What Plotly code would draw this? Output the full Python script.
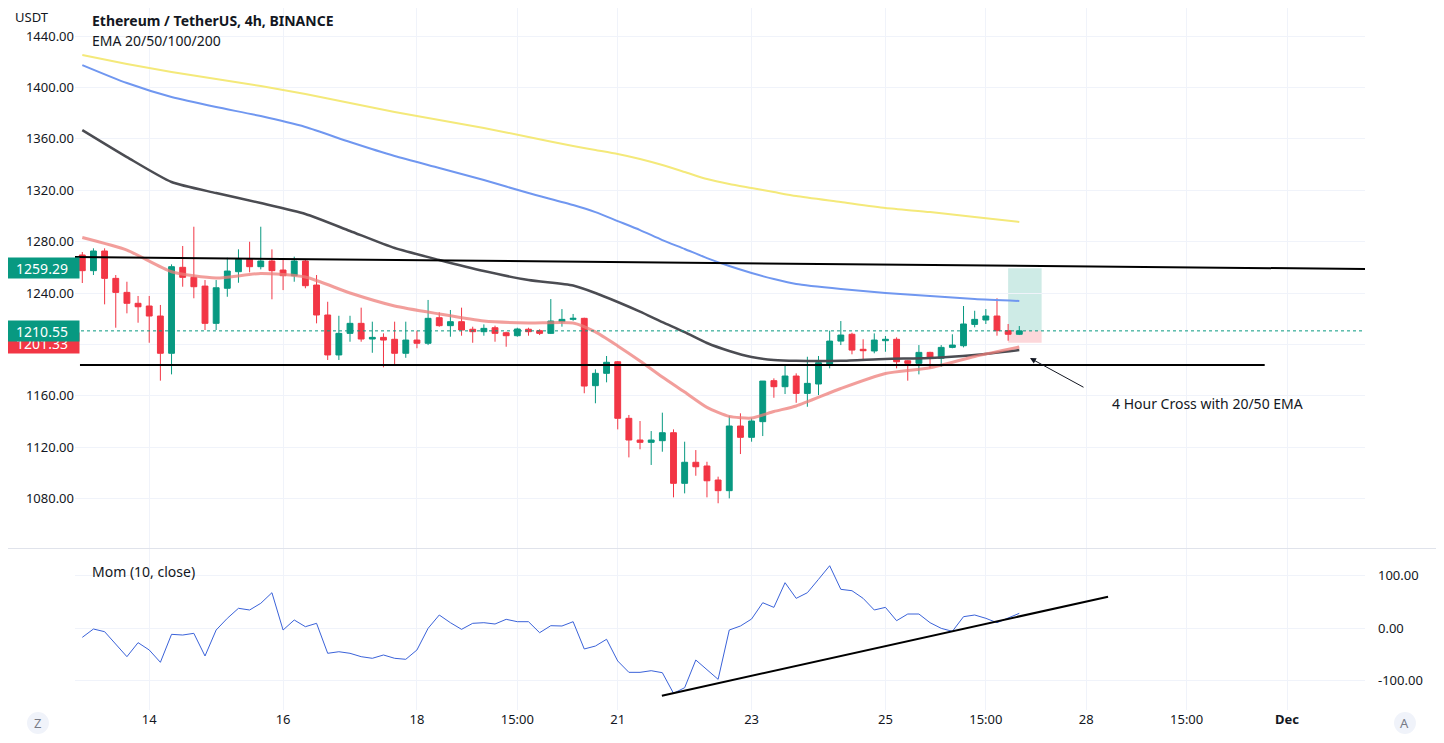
import plotly.graph_objects as go
import pandas as pd

# ---------------- data ----------------
start_time = "2022-11-13 00:00"
n_candles = 85

opens = [1269.6, 1257.4, 1272.7, 1251.4, 1240.5, 1232.0, 1229.9, 1222.1, 1193.1, 1260.0,
         1252.2, 1245.4, 1216.4, 1243.7, 1256.6, 1266.2, 1260.5, 1264.9, 1257.9, 1253.5,
         1264.9, 1246.2, 1222.9, 1191.8, 1208.6, 1216.4, 1204.2, 1205.5, 1204.0, 1193.1,
         1203.4, 1200.9, 1220.8, 1214.6, 1217.7, 1211.8, 1209.9, 1213.0, 1209.1, 1206.8,
         1211.8, 1210.7, 1208.6, 1217.7, 1219.5, 1220.3, 1167.9, 1177.5, 1186.5, 1142.5,
         1125.6, 1123.8, 1125.1, 1131.3, 1091.9, 1108.3, 1105.4, 1094.5, 1086.2, 1136.5,
         1127.7, 1139.9, 1171.8, 1167.1, 1175.4, 1161.9, 1169.2, 1184.0, 1202.6, 1207.9,
         1196.2, 1194.9, 1202.9, 1204.0, 1187.3, 1185.3, 1193.8, 1189.2, 1197.7, 1199.0,
         1215.6, 1219.0, 1222.1, 1210.7, 1207.9]
highs = [1271.9, 1274.8, 1274.8, 1254.0, 1248.8, 1237.7, 1237.7, 1230.7, 1262.3, 1276.6,
         1291.6, 1250.1, 1250.1, 1267.5, 1274.0, 1279.9, 1291.6, 1274.0, 1265.7, 1268.3,
         1265.7, 1254.0, 1233.2, 1222.3, 1222.3, 1228.6, 1217.7, 1208.6, 1217.7, 1217.7,
         1210.7, 1234.6, 1225.0, 1226.8, 1228.6, 1213.8, 1215.6, 1214.6, 1209.9, 1213.0,
         1213.0, 1211.8, 1235.3, 1227.5, 1223.7, 1220.8, 1180.6, 1191.0, 1187.1, 1145.1,
         1140.4, 1132.6, 1146.9, 1133.9, 1124.3, 1117.8, 1108.7, 1097.1, 1144.5, 1146.4,
         1142.5, 1171.5, 1173.6, 1184.7, 1177.5, 1190.4, 1191.0, 1210.7, 1218.2, 1209.1,
         1204.0, 1208.6, 1206.5, 1205.5, 1187.9, 1199.5, 1194.3, 1199.5, 1207.9, 1229.9,
         1226.2, 1227.5, 1235.9, 1215.9, 1214.3]
lows = [1247.8, 1254.0, 1231.2, 1213.0, 1224.2, 1216.9, 1201.3, 1171.8, 1176.7, 1244.9,
        1235.9, 1211.2, 1211.2, 1237.1, 1248.0, 1256.1, 1258.4, 1235.1, 1242.3, 1248.8,
        1243.7, 1216.4, 1187.9, 1187.9, 1202.1, 1202.1, 1193.5, 1182.2, 1183.2, 1189.6,
        1197.0, 1199.5, 1213.8, 1206.0, 1206.8, 1201.3, 1206.8, 1202.1, 1198.2, 1206.0,
        1206.8, 1207.3, 1208.1, 1213.8, 1218.4, 1162.0, 1154.2, 1170.5, 1133.9, 1112.1,
        1118.4, 1106.2, 1116.5, 1081.0, 1084.1, 1097.8, 1081.0, 1076.4, 1080.2, 1114.7,
        1124.3, 1128.7, 1158.5, 1161.4, 1154.6, 1151.5, 1160.6, 1181.4, 1199.5, 1192.3,
        1187.1, 1193.1, 1194.3, 1181.4, 1171.8, 1176.7, 1181.4, 1182.6, 1197.0, 1197.7,
        1213.3, 1215.9, 1206.8, 1202.9, 1207.3]
closes = [1257.4, 1272.7, 1251.4, 1240.5, 1232.0, 1229.3, 1222.1, 1193.1, 1260.5, 1252.2,
          1244.9, 1216.4, 1244.1, 1257.1, 1266.2, 1260.5, 1264.9, 1257.4, 1253.5, 1264.9,
          1245.7, 1222.9, 1191.8, 1208.6, 1216.4, 1204.2, 1205.5, 1203.4, 1193.1, 1203.4,
          1200.9, 1220.3, 1214.6, 1217.7, 1211.2, 1209.9, 1212.5, 1208.6, 1206.8, 1212.0,
          1209.9, 1208.6, 1218.2, 1219.5, 1220.3, 1167.6, 1177.5, 1186.1, 1142.5, 1125.6,
          1123.8, 1125.6, 1131.3, 1091.9, 1108.3, 1104.8, 1093.9, 1086.2, 1136.5, 1127.7,
          1140.4, 1171.5, 1167.1, 1175.4, 1161.9, 1169.7, 1185.8, 1202.6, 1207.3, 1195.6,
          1195.1, 1203.4, 1204.0, 1186.5, 1185.3, 1193.8, 1189.2, 1197.7, 1199.5, 1215.9,
          1219.5, 1222.1, 1210.7, 1207.9, 1210.55]

# EMA values read at these candle indices
ema_idx = [0, 4, 8, 12, 16, 20, 24, 28, 32, 36, 40, 44, 46, 48, 50, 52, 54, 56, 58, 60,
           62, 64, 68, 72, 76, 80, 84]
ema20 = [1283.2, 1273.4, 1256.6, 1251.7, 1255.2, 1252.4, 1240.0, 1229.9, 1223.7, 1218.2,
         1216.7, 1216.7, 1209.7, 1198.8, 1187.1, 1174.6, 1162.9, 1151.0, 1144.0, 1142.7,
         1147.8, 1152.1, 1165.7, 1177.4, 1181.8, 1190.6, 1198.0]
ema50 = [1366.8, 1345.8, 1326.4, 1317.8, 1310.0, 1301.5, 1288.3, 1275.0, 1265.7, 1257.1,
         1250.1, 1245.8, 1240.0, 1233.0, 1225.5, 1217.4, 1209.6, 1201.1, 1194.9, 1190.2,
         1187.9, 1187.2, 1187.2, 1188.7, 1189.4, 1191.8, 1195.6]
ema100 = [1417.4, 1403.4, 1392.5, 1384.7, 1377.7, 1369.2, 1357.5, 1346.6, 1337.3, 1327.9,
          1317.8, 1308.5, 1303.0, 1296.0, 1289.0, 1281.2, 1274.3, 1267.2, 1261.0, 1255.6,
          1250.9, 1247.0, 1243.1, 1240.0, 1237.7, 1235.3, 1233.8]
ema200 = [1425.2, 1418.2, 1412.0, 1406.5, 1401.1, 1394.9, 1387.9, 1380.9, 1374.6, 1368.4,
          1361.4, 1354.4, 1351.3, 1348.2, 1344.3, 1339.6, 1334.2, 1328.7, 1324.8, 1321.7,
          1318.6, 1315.5, 1310.8, 1306.1, 1303.0, 1299.1, 1295.3]

momentum = [-17.7, -1.9, -7.0, -30.4, -54.4, -27.8, -41.7, -65.1, -12.0, -13.3,
            -10.1, -53.1, -3.8, 18.4, 37.4, 34.2, 46.9, 67.0, -3.8, 15.2,
            2.5, 8.9, -48.0, -45.0, -48.0, -54.4, -57.5, -51.2, -57.5, -59.4,
            -41.7, -0.6, 24.7, 10.1, -2.5, 8.9, 10.1, 7.6, 16.5, 12.0,
            12.0, -8.9, 4.4, 3.8, 12.0, -39.8, -34.2, -21.4, -62.6, -84.1,
            -84.1, -81.0, -84.8, -123.9, -113.3, -60.7, -79.0, -97.4, -3.8, 3.8,
            17.1, 48.0, 39.2, 86.0, 56.3, 67.0, 92.4, 118.2, 73.4, 70.8,
            56.3, 34.2, 39.2, 13.9, 26.6, 26.6, 10.1, -0.6, -6.3, 21.5,
            24.7, 18.4, 10.1, 18.4, 27.9]

# drawings
upper_line_t = ["2022-11-12 21:00", "2022-12-02 04:00"]
upper_line_p = [1268.0, 1258.7]
lower_line_t = ["2022-11-12 23:10", "2022-11-30 16:00"]
lower_line_p = [1184.0, 1184.0]
mom_line_t = ["2022-11-21 15:50", "2022-11-28 07:50"]
mom_line_v = [-128.5, 59.4]

last_price = 1210.55
target_price = 1259.29
stop_price = 1201.33
position_t = ["2022-11-26 20:00", "2022-11-27 08:00"]

price_ticks = [1080, 1120, 1160, 1200, 1240, 1280, 1320, 1360, 1400, 1440]
price_tick_text = ["1080.00", "1120.00", "1160.00", "", "1240.00", "1280.00",
                   "1320.00", "1360.00", "1400.00", "1440.00"]
mom_ticks = [-100, 0, 100]
mom_tick_text = ["-100.00", "0.00", "100.00"]
time_ticks = ["2022-11-14", "2022-11-16", "2022-11-18", "2022-11-19 12:00", "2022-11-21",
              "2022-11-23", "2022-11-25", "2022-11-26 12:00", "2022-11-28",
              "2022-11-29 12:00", "2022-12-01"]
time_tick_text = ["14", "16", "18", "15:00", "21", "23", "25", "15:00", "28", "15:00",
                  "<b>Dec</b>"]

# ---------------- figure ----------------
times = pd.date_range(start_time, periods=n_candles, freq="4h")
ema_times = [times[i] for i in ema_idx]

UP = "#089981"
DOWN = "#F23645"
FONT = "Noto Sans"
TXT = "#131722"
GRID = "#f0f3fa"

fig = go.Figure()

# EMAs (under candles)
for vals, col, w in [(ema200, "#f4e97a", 2), (ema100, "#7097f0", 2),
                     (ema50, "#4b4c52", 2.5), (ema20, "rgba(238,125,122,0.75)", 3)]:
    fig.add_trace(go.Scatter(x=ema_times, y=vals, mode="lines",
                             line=dict(color=col, width=w, shape="spline", smoothing=0.6),
                             xaxis="x", yaxis="y", hoverinfo="skip", showlegend=False))

fig.add_trace(go.Candlestick(
    x=times, open=opens, high=highs, low=lows, close=closes,
    increasing=dict(line=dict(color=UP, width=1), fillcolor=UP),
    decreasing=dict(line=dict(color=DOWN, width=1), fillcolor=DOWN),
    whiskerwidth=0, xaxis="x", yaxis="y", showlegend=False))

# trend lines
fig.add_trace(go.Scatter(x=upper_line_t, y=upper_line_p, mode="lines",
                         line=dict(color="#000000", width=2), xaxis="x", yaxis="y",
                         showlegend=False, hoverinfo="skip"))
fig.add_trace(go.Scatter(x=lower_line_t, y=lower_line_p, mode="lines",
                         line=dict(color="#000000", width=2), xaxis="x", yaxis="y",
                         showlegend=False, hoverinfo="skip"))

# momentum
fig.add_trace(go.Scatter(x=times, y=momentum, mode="lines",
                         line=dict(color="#3a62d9", width=1), xaxis="x2", yaxis="y2",
                         showlegend=False, hoverinfo="skip"))
fig.add_trace(go.Scatter(x=mom_line_t, y=mom_line_v, mode="lines",
                         line=dict(color="#000000", width=2), xaxis="x2", yaxis="y2",
                         showlegend=False, hoverinfo="skip"))

x_range = ["2022-11-12 21:23", "2022-12-02 03:58"]

shapes = [
    # long position tool
    dict(type="rect", xref="x", yref="y", x0=position_t[0], x1=position_t[1],
         y0=last_price, y1=target_price, fillcolor="rgba(8,153,129,0.2)",
         line=dict(width=0), layer="below"),
    dict(type="rect", xref="x", yref="y", x0=position_t[0], x1=position_t[1],
         y0=stop_price, y1=last_price, fillcolor="rgba(242,54,69,0.2)",
         line=dict(width=0), layer="below"),
    # last price line
    dict(type="line", xref="paper", yref="y", x0=0, x1=1, y0=last_price, y1=last_price,
         line=dict(color=UP, width=1, dash="dot")),
    # pane separator
    dict(type="line", xref="paper", yref="paper", x0=-0.06, x1=1.06,
         y0=0.2301, y1=0.2301, line=dict(color="#e0e3eb", width=1)),
    # Z / A buttons
    dict(type="circle", xref="paper", yref="paper", x0=-0.0372, x1=-0.0202,
         y0=-0.0342, y1=-0.0029, fillcolor="#f0f3fa", line=dict(width=0)),
    dict(type="circle", xref="paper", yref="paper", x0=1.0225, x1=1.0395,
         y0=-0.0342, y1=-0.0029, fillcolor="#f0f3fa", line=dict(width=0)),
]

def price_label(val, color):
    return dict(xref="paper", yref="y", x=0, y=val, xanchor="right", yanchor="middle",
                xshift=5, text=f"{val:.2f}", showarrow=False, bgcolor=color,
                font=dict(family=FONT, size=14, color="white"), width=72, height=18,
                borderpad=1)

annotations = [
    dict(xref="paper", yref="paper", x=-0.0333, y=0.9872, text="USDT", showarrow=False,
         font=dict(family=FONT, size=13, color=TXT), xanchor="center", yanchor="middle"),
    dict(xref="paper", yref="paper", x=0.0116, y=0.9829,
         text="<b>Ethereum / TetherUS, 4h, BINANCE</b>", showarrow=False,
         font=dict(family=FONT, size=14, color=TXT), xanchor="left", yanchor="middle"),
    dict(xref="paper", yref="paper", x=0.0116, y=0.953, text="EMA 20/50/100/200",
         showarrow=False, font=dict(family=FONT, size=14, color=TXT),
         xanchor="left", yanchor="middle"),
    dict(xref="paper", yref="paper", x=0.0116, y=0.198, text="Mom (10, close)",
         showarrow=False, font=dict(family=FONT, size=14, color=TXT),
         xanchor="left", yanchor="middle"),
    dict(xref="x", yref="y", x="2022-11-28 08:30", y=1154.4,
         text="4 Hour Cross with 20/50 EMA", showarrow=False,
         font=dict(family=FONT, size=14, color=TXT), xanchor="left", yanchor="middle"),
    dict(xref="x", yref="y", x="2022-11-27 03:50", y=1189.4, ax=55, ay=30, text="",
         showarrow=True, arrowhead=2, arrowsize=1.2, arrowwidth=1, arrowcolor="#131722"),
    price_label(target_price, UP),
    price_label(stop_price, DOWN),
    price_label(last_price, UP),
    dict(xref="paper", yref="paper", x=-0.0287, y=-0.0185, text="Z", showarrow=False,
         font=dict(family=FONT, size=13, color="#787b86"), xanchor="center", yanchor="middle"),
    dict(xref="paper", yref="paper", x=1.031, y=-0.0185, text="A", showarrow=False,
         font=dict(family=FONT, size=13, color="#787b86"), xanchor="center", yanchor="middle"),
]

fig.update_layout(
    width=1428, height=727,
    margin=dict(l=67, r=71, t=0, b=25),
    paper_bgcolor="white", plot_bgcolor="white",
    showlegend=False, hovermode=False,
    boxgap=0.25,
    font=dict(family=FONT, size=13, color=TXT),
    xaxis=dict(domain=[0, 1], anchor="y", range=x_range, type="date",
               tickvals=time_ticks, ticktext=time_tick_text, showticklabels=False,
               showgrid=True, gridcolor=GRID, zeroline=False, showline=False,
               rangeslider=dict(visible=False), fixedrange=True),
    yaxis=dict(domain=[0.2308, 1], anchor="x", side="left", range=[1041.6, 1461.8],
               tickvals=price_ticks, ticktext=price_tick_text, showgrid=True,
               gridcolor=GRID, zeroline=False, showline=False, ticks="",
               tickfont=dict(family=FONT, size=13, color=TXT)),
    xaxis2=dict(domain=[0, 1], anchor="y2", matches="x", range=x_range, type="date",
                tickvals=time_ticks, ticktext=time_tick_text, showgrid=True,
                gridcolor=GRID, zeroline=False, showline=False, ticks="",
                tickfont=dict(family=FONT, size=13, color=TXT)),
    yaxis2=dict(domain=[0, 0.2293], anchor="x2", side="right", range=[-155.6, 149.9],
                tickvals=mom_ticks, ticktext=mom_tick_text, showgrid=True,
                gridcolor=GRID, zeroline=False, showline=False, ticks="",
                ticklabelstandoff=12,
                tickfont=dict(family=FONT, size=13, color=TXT)),
    shapes=shapes,
    annotations=annotations,
)

fig.write_html("out.html")
